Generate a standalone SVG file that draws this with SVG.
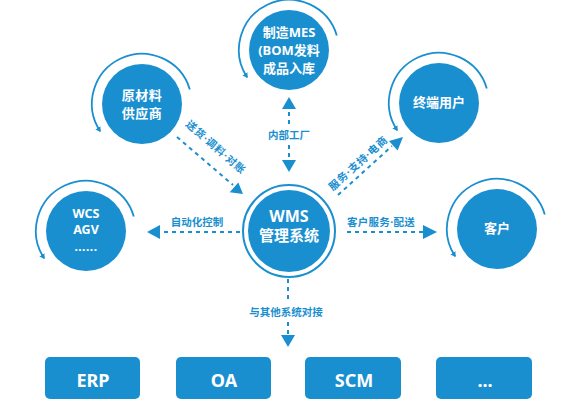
<svg xmlns="http://www.w3.org/2000/svg" width="580" height="400" viewBox="0 0 580 400">
<defs>
<style>
.fill{fill:#1a8fd0}
.arc{fill:none;stroke:#1a8fd0;stroke-width:1.8;marker-end:url(#ah)}
.ring{fill:none;stroke:#1a8fd0;stroke-width:2}
.t{fill:#fff;font-family:"Noto Sans","Noto Sans CJK SC",sans-serif;font-weight:bold;text-anchor:middle}
.lbl{fill:#1a8fd0;font-family:"Noto Sans","Noto Sans CJK SC",sans-serif;font-size:10.5px;font-weight:bold;text-anchor:middle}
.dash{fill:none;stroke:#1a8fd0;stroke-width:2;stroke-dasharray:4 4}
</style>
<marker id="ah" markerWidth="6" markerHeight="6" refX="4" refY="3" orient="auto" markerUnits="userSpaceOnUse">
<path d="M0,0 L5,3 L0,6 z" fill="#1a8fd0"/>
</marker>
</defs>
<rect width="580" height="400" fill="#fff"/>

<g id="connectors">
<path class="fill" d="M289,97 L296,109 L282,109 z"/>
<line class="dash" x1="289" y1="112" x2="289" y2="127"/>
<text class="lbl" x="289" y="139">内部工厂</text>
<line class="dash" x1="289" y1="145" x2="289" y2="159"/>
<path class="fill" d="M282,160 L296,160 L289,172 z"/>
<line class="dash" x1="177" y1="137" x2="233" y2="185"/>
<path class="fill" d="M243,194 L238.3,182.4 L229.7,192.2 z"/>
<text class="lbl" transform="translate(216,147) rotate(41)" x="0" y="4" letter-spacing="0.8">送货·调料·对账</text>
<line class="dash" x1="338" y1="195" x2="392" y2="146"/>
<path class="fill" d="M403,137 L397.6,150.5 L389,140.9 z"/>
<text class="lbl" transform="translate(358,163) rotate(-42)" x="0" y="4" letter-spacing="0.8">服务·支持·电商</text>
<line class="dash" x1="240" y1="232" x2="161" y2="232"/>
<path class="fill" d="M147,232 L160,225 L160,239 z"/>
<text class="lbl" x="197" y="226">自动化控制</text>
<line class="dash" x1="347" y1="232" x2="423" y2="232"/>
<path class="fill" d="M437,232 L423,225 L423,239 z"/>
<text class="lbl" x="381" y="226" letter-spacing="0.3">客户服务·配送</text>
<line class="dash" x1="288" y1="279" x2="288" y2="303"/>
<text class="lbl" x="286" y="316">与其他系统对接</text>
<line class="dash" x1="288" y1="322" x2="288" y2="334"/>
<path class="fill" d="M281,335 L295,335 L288,347 z"/>
</g>

<g id="wms">
<circle class="ring" cx="289" cy="231" r="46"/>
<circle class="fill" cx="289" cy="231" r="41"/>
<text class="t" x="289" y="222" font-size="16">WMS</text>
<text class="t" x="289" y="241" font-size="15">管理系统</text>
</g>

<g id="mes">
<circle class="fill" cx="289" cy="50" r="40"/>
<path class="arc" d="M336.8,35.4 A50,50 0 1 0 247.1,77.2"/>
<text class="t" x="289" y="37" font-size="13">制造MES</text>
<text class="t" x="289" y="55" font-size="13">(BOM发料</text>
<text class="t" x="289" y="73" font-size="13">成品入库</text>
</g>

<g id="supplier">
<circle class="fill" cx="142" cy="104" r="40"/>
<path class="arc" d="M189.8,89.4 A50,50 0 1 0 100.1,131.2"/>
<text class="t" x="142" y="100" font-size="13" letter-spacing="0.5">原材料</text>
<text class="t" x="142" y="118" font-size="13" letter-spacing="0.5">供应商</text>
</g>

<g id="enduser">
<circle class="fill" cx="439" cy="103" r="40"/>
<path class="arc" d="M486.8,88.4 A50,50 0 1 0 397.1,130.2"/>
<text class="t" x="439" y="107" font-size="13">终端用户</text>
</g>

<g id="wcs">
<circle class="fill" cx="86" cy="231" r="40"/>
<path class="arc" d="M133.8,216.4 A50,50 0 1 0 44.1,258.2"/>
<text class="t" x="86" y="218" font-size="12.5">WCS</text>
<text class="t" x="86" y="234" font-size="12.5">AGV</text>
<text class="t" x="86" y="251" font-size="12" letter-spacing="0.5">......</text>
</g>

<g id="customer">
<circle class="fill" cx="497" cy="229" r="40"/>
<path class="arc" d="M544.8,214.4 A50,50 0 1 0 455.1,256.2"/>
<text class="t" x="497" y="233" font-size="13">客户</text>
</g>

<g id="erp">
<rect class="fill" x="45" y="357" width="95" height="42" rx="5"/>
<text class="t" x="93" y="387" font-size="18">ERP</text>
</g>
<g id="oa">
<rect class="fill" x="176" y="357" width="95" height="42" rx="5"/>
<text class="t" x="224" y="387" font-size="18">OA</text>
</g>
<g id="scm">
<rect class="fill" x="305" y="357" width="96" height="42" rx="5"/>
<text class="t" x="354" y="387" font-size="18">SCM</text>
</g>
<g id="more">
<rect class="fill" x="436" y="357" width="96" height="42" rx="5"/>
<text class="t" x="485" y="387" font-size="18">...</text>
</g>
</svg>
